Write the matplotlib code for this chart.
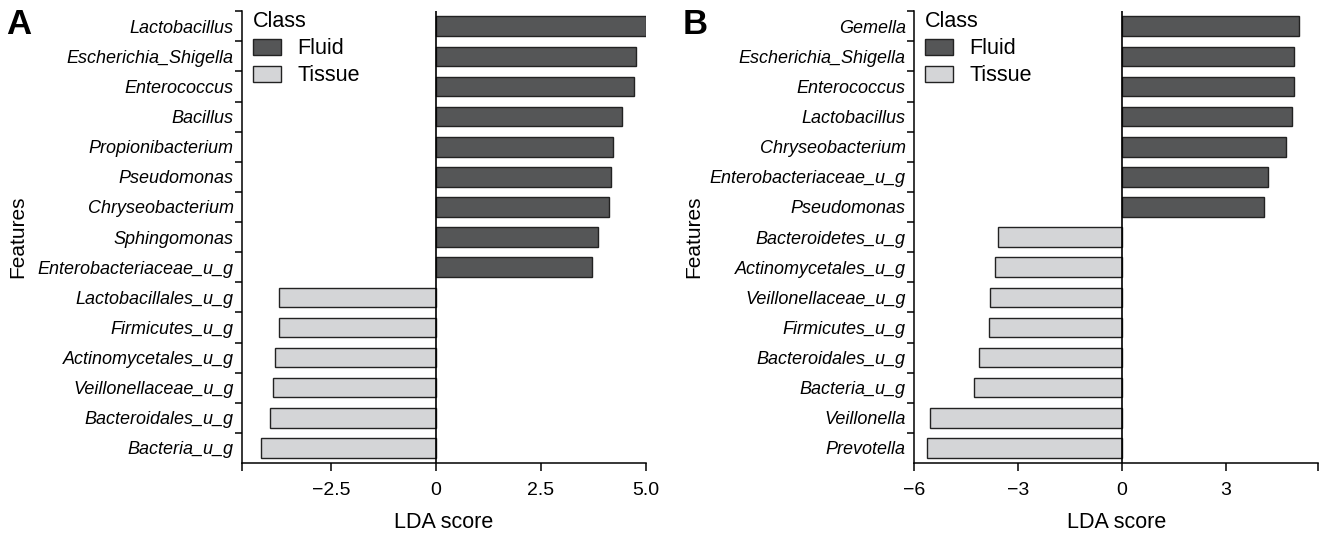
import matplotlib
matplotlib.use('Agg')
import matplotlib.pyplot as plt
from matplotlib.patches import Patch
import numpy as np

plt.rcParams['font.family'] = ['Liberation Sans', 'DejaVu Sans']

# panel A: LEfSe features, top to bottom
feat_a = ['Lactobacillus', 'Escherichia_Shigella', 'Enterococcus', 'Bacillus',
          'Propionibacterium', 'Pseudomonas', 'Chryseobacterium', 'Sphingomonas',
          'Enterobacteriaceae_u_g', 'Lactobacillales_u_g', 'Firmicutes_u_g',
          'Actinomycetales_u_g', 'Veillonellaceae_u_g', 'Bacteroidales_u_g',
          'Bacteria_u_g']
lda_a = [4.99, 4.75, 4.71, 4.42, 4.21, 4.16, 4.11, 3.86, 3.71,
         -3.73, -3.73, -3.83, -3.87, -3.96, -4.16]

# panel B
feat_b = ['Gemella', 'Escherichia_Shigella', 'Enterococcus', 'Lactobacillus',
          'Chryseobacterium', 'Enterobacteriaceae_u_g', 'Pseudomonas',
          'Bacteroidetes_u_g', 'Actinomycetales_u_g', 'Veillonellaceae_u_g',
          'Firmicutes_u_g', 'Bacteroidales_u_g', 'Bacteria_u_g', 'Veillonella',
          'Prevotella']
lda_b = [5.12, 4.97, 4.97, 4.93, 4.76, 4.23, 4.11,
         -3.57, -3.67, -3.81, -3.84, -4.11, -4.27, -5.53, -5.62]

ticks_a = [-2.5, 0, 2.5, 5.0]
ticklabels_a = ['\u22122.5', '0', '2.5', '5.0']
ticks_b = [-6, -3, 0, 3]
ticklabels_b = ['\u22126', '\u22123', '0', '3']

FLUID = '#555657'
TISSUE = '#d4d5d7'
EDGE = '#222222'

W, H = 1322, 535
fig = plt.figure(figsize=(W / 100, H / 100), dpi=100)


def panel(rect, feats, vals, xlim, ticks, ticklabels, letter, letter_x, feat_x):
    ax = fig.add_axes(rect)
    n = len(feats)
    y = np.arange(n)[::-1]
    colors = [FLUID if v > 0 else TISSUE for v in vals]
    ax.barh(y, vals, height=0.65, color=colors, edgecolor=EDGE, linewidth=1.0, zorder=2)
    ax.axvline(0, color='black', lw=1.2, zorder=3)
    ax.set_ylim(-0.5, n - 0.5)
    ax.set_xlim(*xlim)

    ax.spines['top'].set_visible(False)
    ax.spines['right'].set_visible(False)
    for s in ('left', 'bottom'):
        ax.spines[s].set_linewidth(1.1)

    ax.set_yticks(y)
    ax.set_yticklabels(feats, style='italic', fontsize=13)
    ax.set_yticks(np.arange(n) + 0.5, minor=True)
    ax.tick_params(axis='y', which='major', length=0, pad=6)
    ax.tick_params(axis='y', which='minor', length=5, width=1.1)

    ax.set_xticks(ticks)
    ax.set_xticklabels(ticklabels, fontsize=14)
    ax.set_xticks(list(xlim), minor=True)
    ax.tick_params(axis='x', which='both', length=6, width=1.1, pad=8)

    ax.legend(handles=[Patch(facecolor=FLUID, edgecolor=EDGE, label='Fluid'),
                       Patch(facecolor=TISSUE, edgecolor=EDGE, label='Tissue')],
              title='Class', loc='upper left', bbox_to_anchor=(0.028, 1.0),
              frameon=False, fontsize=15.5, title_fontsize=15.5, alignment='left',
              handlelength=1.3, handleheight=0.75, handletextpad=0.75,
              labelspacing=0.28, borderpad=0, borderaxespad=0)

    cx = rect[0] + rect[2] / 2
    fig.text(cx, 1 - 523 / H, 'LDA score', ha='center', va='center', fontsize=15.5)
    fig.text(feat_x / W, 1 - 237 / H, 'Features', rotation=90, ha='center',
             va='center', fontsize=15)
    fig.text(letter_x / W, 1 - 24 / H, letter, ha='center', va='center',
             fontsize=25, fontweight='bold')
    return ax


bottom = 72 / H
height = (463 - 11.2) / H
panel([242 / W, bottom, 404 / W, height], feat_a, lda_a, (-4.62, 5.0),
      ticks_a, ticklabels_a, 'A', 19, 18)
panel([914 / W, bottom, 404.3 / W, height], feat_b, lda_b, (-6.0, 5.68),
      ticks_b, ticklabels_b, 'B', 695, 694)

fig.savefig('out.png', dpi=100)
